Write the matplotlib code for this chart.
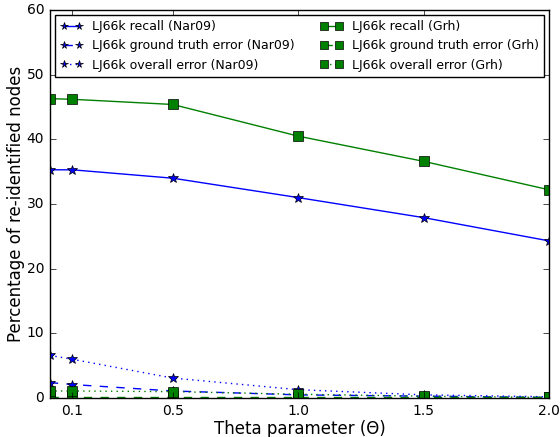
import matplotlib
matplotlib.use("Agg")
import matplotlib.pyplot as plt

plt.style.use("classic")

theta = [0.01, 0.1, 0.5, 1.0, 1.5, 2.0]

nar_recall = [35.3, 35.3, 34.0, 31.0, 27.9, 24.3]
nar_gt_err = [2.4, 2.1, 1.1, 0.5, 0.3, 0.1]
nar_overall_err = [6.6, 6.0, 3.1, 1.3, 0.5, 0.2]

grh_recall = [46.3, 46.2, 45.4, 40.5, 36.6, 32.2]
grh_gt_err = [0.1, 0.1, 0.1, 0.1, 0.1, 0.1]
grh_overall_err = [1.1, 1.1, 1.0, 0.6, 0.3, 0.1]

xticks = [0.1, 0.5, 1.0, 1.5, 2.0]

fig = plt.figure(figsize=(5.6, 4.37), dpi=100)
ax = fig.add_axes([0.089, 0.089, 0.892, 0.888])

ax.plot(theta, nar_recall, "b*-", markersize=7, label="LJ66k recall (Nar09)")
ax.plot(theta, nar_gt_err, "b*--", markersize=7, label="LJ66k ground truth error (Nar09)")
ax.plot(theta, nar_overall_err, "b*:", markersize=7, label="LJ66k overall error (Nar09)")
ax.plot(theta, grh_recall, "gs-", markersize=7, label="LJ66k recall (Grh)")
ax.plot(theta, grh_gt_err, "gs--", markersize=7, label="LJ66k ground truth error (Grh)")
ax.plot(theta, grh_overall_err, "gs:", markersize=7, label="LJ66k overall error (Grh)")

ax.set_xlim(0.01, 2.0)
ax.set_ylim(0, 60)
ax.set_xticks(xticks)
ax.set_xlabel("Theta parameter (\u0398)", fontsize=12, labelpad=2)
ax.set_ylabel("Percentage of re-identified nodes", fontsize=12, labelpad=1)
ax.tick_params(labelsize=10)

ax.legend(loc="upper center", ncol=2, fontsize=9, numpoints=2, markerscale=0.8,
          handlelength=1.8, handletextpad=0.8, columnspacing=2.0,
          borderaxespad=0.4)

fig.savefig("out.png", dpi=100)
